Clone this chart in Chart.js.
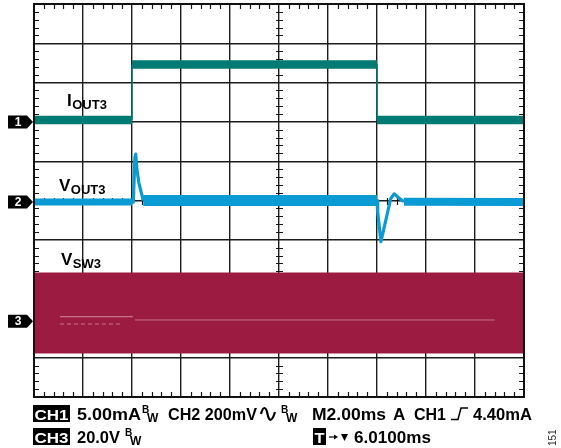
<!DOCTYPE html>
<html><head><meta charset="utf-8">
<script src="https://cdn.jsdelivr.net/npm/chart.js@4/dist/chart.umd.min.js"></script>
<style>html,body{margin:0;padding:0;background:#fff;}#wrap{width:561px;height:448px;position:relative;}</style>
</head><body><div id="wrap"><canvas id="c" width="561" height="448"></canvas></div>
<script>
// Horizontal axis: time in divisions (2.00 ms/div, 10 div). Vertical axis: divisions (0 = bottom, 10 = top).
const gridDivs = [0,1,2,3,4,5,6,7,8,9,10];

// CH1  I_OUT3 (load current step)
const ch1Time  = [0, 2.0, 2.0, 7.0, 7.0, 10];
const ch1Level = [7.05, 7.05, 8.46, 8.46, 7.05, 7.05];

// CH2  V_OUT3 (output voltage, with transients)
const ch2Time  = [0, 2.0, 2.027, 2.06, 2.076, 2.10, 2.14, 2.19, 2.23, 7.0, 7.014, 7.08, 7.28, 7.35, 7.45, 7.55, 10];
const ch2Level = [4.96, 4.96, 4.96, 6.10, 6.18, 5.80, 5.45, 5.20, 5.0, 5.0, 4.7, 3.95, 5.05, 5.17, 5.06, 4.97, 4.96];

// CH3  V_SW3 (switch node envelope)
const ch3Time  = [0, 10];
const ch3Upper = [3.155, 3.155];
const ch3Lower = [1.12, 1.12];
const ch3GapATime = [0.53, 2.02], ch3GapALevel = [2.043, 2.043];
const ch3GapBTime = [0.53, 1.80], ch3GapBLevel = [1.857, 1.857];
const ch3GapCTime = [2.06, 9.40], ch3GapCLevel = [1.96, 1.96];

// channel reference markers
const chNames = ['1', '2', '3'];
const chRefs  = [7.0, 4.96, 1.93];

const TEAL = '#007a72', BLUE = '#0a9bd4', CRIMSON = '#9c1b41';
const pts = (xs, ys) => xs.map((x, i) => ({x, y: ys[i]}));

const ch1Width = ctx => (ctx.p0.parsed.x === ctx.p1.parsed.x) ? 1.5 : 8.5;
const ch2Width = ctx => {
  const x0 = ctx.p0.parsed.x, x1 = ctx.p1.parsed.x;
  if (x1 - x0 < 0.5) return 3.2;
  const m = (x0 + x1) / 2;
  if (m > 2 && m < 7) return 11;
  return m > 7 ? 8 : 7;
};

const FONT = '"Liberation Sans", Arial, Helvetica, sans-serif';

function fitText(ctx, txt, x0, x1, y) {
  const w = ctx.measureText(txt).width;
  const s = (x1 - x0) / w;
  ctx.save(); ctx.translate(x0, y); ctx.scale(s, 1); ctx.fillText(txt, 0, 0); ctx.restore();
}

const scopePlugin = {
  id: 'scope',
  beforeDatasetsDraw(chart) {
    const {ctx, chartArea: a, scales: {x, y}} = chart;
    ctx.save();
    ctx.strokeStyle = '#151515'; ctx.lineWidth = 1.2;
    const cx = Math.round(x.getPixelForValue(5)) + 0.5;
    const cy = Math.round(y.getPixelForValue(5)) + 0.5;
    ctx.beginPath();
    for (let k = 1; k < 50; k++) {
      if (k % 5 === 0) continue;
      const px = Math.round(x.getPixelForValue(k / 5)) + 0.5;
      ctx.moveTo(px, a.top); ctx.lineTo(px, a.top + 5);
      ctx.moveTo(px, a.bottom - 5); ctx.lineTo(px, a.bottom);
      ctx.moveTo(px, cy - 3.5); ctx.lineTo(px, cy + 3.5);
      const py = Math.round(y.getPixelForValue(k / 5)) + 0.5;
      ctx.moveTo(a.left, py); ctx.lineTo(a.left + 5, py);
      ctx.moveTo(a.right - 5, py); ctx.lineTo(a.right, py);
      ctx.moveTo(cx - 3.5, py); ctx.lineTo(cx + 3.5, py);
    }
    ctx.stroke();
    ctx.restore();
  },
  afterDatasetsDraw(chart) {
    const {ctx, chartArea: a, scales: {x, y}} = chart;
    ctx.save();
    // frame
    ctx.strokeStyle = '#111'; ctx.lineWidth = 2;
    ctx.strokeRect(a.left, a.top, a.right - a.left, a.bottom - a.top);
    // channel markers
    chRefs.forEach((r, i) => {
      const py = y.getPixelForValue(r);
      ctx.fillStyle = '#000';
      ctx.beginPath();
      ctx.moveTo(8, py - 6.5); ctx.lineTo(27, py - 6.5); ctx.lineTo(33, py);
      ctx.lineTo(27, py + 6.5); ctx.lineTo(8, py + 6.5); ctx.closePath(); ctx.fill();
      ctx.fillStyle = '#fff'; ctx.font = 'bold 12px ' + FONT;
      ctx.textAlign = 'center'; ctx.textBaseline = 'middle';
      ctx.fillText(chNames[i], 18, py + 0.5);
    });
    // trace labels
    ctx.fillStyle = '#000'; ctx.textAlign = 'left'; ctx.textBaseline = 'alphabetic';
    const lab = (main, sub, x0, base) => {
      ctx.font = 'bold 17px ' + FONT; ctx.fillText(main, x0, base);
      const w = ctx.measureText(main).width;
      ctx.font = 'bold 13px ' + FONT; ctx.fillText(sub, x0 + w + 0.5, base + 3);
    };
    lab('I', 'OUT3', 67, 106);
    lab('V', 'OUT3', 59, 191);
    lab('V', 'SW3', 61, 265);

    // status lines
    const b1 = 420, b2 = 443;
    const box = (txt, x0, x1, base) => {
      ctx.fillStyle = '#000'; ctx.fillRect(x0, base - 15, x1 - x0, 17);
      ctx.fillStyle = '#fff'; ctx.font = 'bold 15px ' + FONT;
      fitText(ctx, txt, x0 + 1.5, x1 - 1.5, base);
      ctx.fillStyle = '#000';
    };
    const bw = (x0, base) => {
      ctx.font = 'bold 10px ' + FONT;
      ctx.fillText('B', x0, base - 7);
      ctx.font = 'bold 12px ' + FONT;
      ctx.fillText('W', x0 + 5, base + 2);
    };
    box('CH1', 33, 70, b1);
    ctx.font = 'bold 17px ' + FONT; fitText(ctx, '5.00mA', 77, 141, b1);
    bw(142, b1);
    ctx.font = 'bold 17px ' + FONT; fitText(ctx, 'CH2 200mV', 168, 257, b1);
    // bandwidth-limit squiggle
    ctx.strokeStyle = '#000'; ctx.lineWidth = 2.2;
    ctx.beginPath();
    ctx.moveTo(261, b1 - 6);
    ctx.bezierCurveTo(263, b1 - 14, 266, b1 - 14, 267.5, b1 - 6);
    ctx.bezierCurveTo(269, b1 + 2, 272, b1 + 2, 275, b1 - 8);
    ctx.stroke();
    bw(281, b1);
    ctx.font = 'bold 17px ' + FONT; fitText(ctx, 'M2.00ms', 312, 386, b1);
    ctx.fillText('A', 393, b1);
    fitText(ctx, 'CH1', 414, 446, b1);
    // rising edge symbol
    ctx.lineWidth = 1.5;
    ctx.beginPath();
    ctx.moveTo(451, b1 - 0.5); ctx.lineTo(458, b1 - 0.5); ctx.lineTo(461, b1 - 12); ctx.lineTo(468, b1 - 12);
    ctx.stroke();
    ctx.font = 'bold 17px ' + FONT; fitText(ctx, '4.40mA', 473, 532, b1);

    box('CH3', 33, 70, b2);
    ctx.font = 'bold 17px ' + FONT; fitText(ctx, '20.0V', 77, 120, b2);
    bw(125, b2);
    box('T', 313, 326, b2);
    // arrow
    ctx.fillStyle = '#000'; ctx.strokeStyle = '#000'; ctx.lineWidth = 1.2;
    ctx.beginPath(); ctx.moveTo(329, b2 - 6); ctx.lineTo(335, b2 - 6); ctx.stroke();
    ctx.beginPath(); ctx.moveTo(338, b2 - 6); ctx.lineTo(334, b2 - 8.5); ctx.lineTo(334, b2 - 3.5); ctx.closePath(); ctx.fill();
    // small down triangle
    ctx.beginPath(); ctx.moveTo(341, b2 - 9); ctx.lineTo(348, b2 - 9); ctx.lineTo(344.5, b2 - 2); ctx.closePath(); ctx.fill();
    ctx.font = 'bold 17px ' + FONT; fitText(ctx, '6.0100ms', 354, 431, b2);

    // figure number
    ctx.save();
    ctx.translate(556, 446); ctx.rotate(-Math.PI / 2);
    ctx.fillStyle = '#333'; ctx.font = '10px ' + FONT; ctx.fillText('151', 0, 0);
    ctx.restore();
    ctx.restore();
  }
};

new Chart(document.getElementById('c'), {
  type: 'line',
  data: {
    datasets: [
      { data: pts(ch3GapATime, ch3GapALevel), borderColor: 'rgba(255,225,235,0.55)', borderWidth: 1 },
      { data: pts(ch3GapBTime, ch3GapBLevel), borderColor: 'rgba(255,225,235,0.45)', borderWidth: 1, borderDash: [4, 3] },
      { data: pts(ch3GapCTime, ch3GapCLevel), borderColor: 'rgba(255,225,235,0.45)', borderWidth: 1 },
      { data: pts(ch1Time, ch1Level), borderColor: TEAL, borderWidth: 8.5,
        segment: { borderWidth: ch1Width } },
      { data: pts(ch2Time, ch2Level), borderColor: BLUE, borderWidth: 7,
        segment: { borderWidth: ch2Width } },
      { data: pts(ch3Time, ch3Upper), borderColor: CRIMSON, borderWidth: 1 },
      { data: pts(ch3Time, ch3Lower), borderColor: CRIMSON, borderWidth: 1, fill: '-1', backgroundColor: CRIMSON }
    ]
  },
  options: {
    responsive: false, animation: false, devicePixelRatio: 1,
    layout: { padding: { left: 34, right: 37, top: 4, bottom: 51 } },
    elements: { point: { radius: 0 }, line: { tension: 0, borderCapStyle: 'butt', borderJoinStyle: 'round' } },
    plugins: { legend: { display: false }, tooltip: { enabled: false } },
    scales: {
      x: { type: 'linear', min: gridDivs[0], max: gridDivs[gridDivs.length - 1],
           ticks: { display: false, stepSize: 1 },
           grid: { color: '#1c1c1c', lineWidth: 1.4, drawTicks: false },
           border: { display: false } },
      y: { type: 'linear', min: gridDivs[0], max: gridDivs[gridDivs.length - 1],
           ticks: { display: false, stepSize: 1 },
           grid: { color: '#1c1c1c', lineWidth: 1.4, drawTicks: false },
           border: { display: false } }
    }
  },
  plugins: [scopePlugin]
});
</script></body></html>
